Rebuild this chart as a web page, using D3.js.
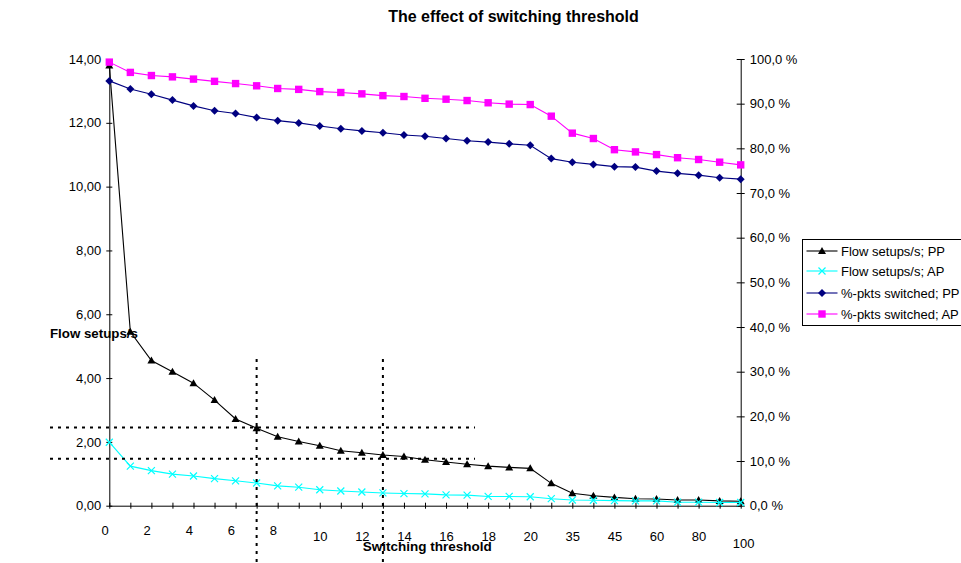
<!DOCTYPE html>
<html>
<head>
<meta charset="utf-8">
<script src="https://cdn.jsdelivr.net/npm/d3@7"></script>
<style>
  html, body { margin: 0; padding: 0; background: #fff; }
  svg { display: block; font-family: "Liberation Sans", Arial, sans-serif; }
</style>
</head>
<body>
<svg id="chart" width="961" height="563"></svg>
<script>
// Switching thresholds (x categories)
const thresholds = ["0","1","2","3","4","5","6","7","8","9","10","11","12","13","14","15","16","17","18","19","20",
                    "30","35","40","45","50","60","70","80","90","100"];
// Flow setups per second (left axis)
const flowPP = [13.8, 5.45, 4.55, 4.2, 3.84, 3.31, 2.72, 2.43, 2.16, 2.01, 1.88, 1.72, 1.66, 1.59, 1.54, 1.44,
                1.37, 1.30, 1.24, 1.20, 1.17, 0.70, 0.39, 0.31, 0.26, 0.22, 0.21, 0.18, 0.18, 0.15, 0.14];
const flowAP = [1.99, 1.24, 1.10, 0.99, 0.93, 0.85, 0.78, 0.71, 0.62, 0.58, 0.50, 0.46, 0.43, 0.40, 0.38, 0.37,
                0.34, 0.33, 0.29, 0.29, 0.28, 0.22, 0.18, 0.17, 0.16, 0.15, 0.15, 0.11, 0.11, 0.10, 0.10];
// Share of packets switched, percent (right axis)
const pktsPP = [95.1, 93.3, 92.1, 90.8, 89.5, 88.4, 87.8, 86.9, 86.2, 85.7, 85.0, 84.4, 83.9, 83.5, 83.0, 82.7,
                82.2, 81.7, 81.4, 81.0, 80.7, 77.7, 76.9, 76.4, 75.9, 75.8, 74.9, 74.4, 74.0, 73.4, 73.1];
const pktsAP = [99.3, 97.0, 96.3, 96.0, 95.5, 95.0, 94.5, 94.0, 93.4, 93.2, 92.7, 92.5, 92.2, 91.8, 91.6, 91.2,
                91.0, 90.7, 90.2, 89.9, 89.8, 87.2, 83.4, 82.2, 79.7, 79.2, 78.6, 77.9, 77.5, 76.9, 76.3];
// Axis ticks
const leftTicks = [0, 2, 4, 6, 8, 10, 12, 14];
const rightTicks = [0, 10, 20, 30, 40, 50, 60, 70, 80, 90, 100];
// Reference guides: thresholds and flow-rate levels marked with dotted lines
const refThresholds = ["7", "13"];
const refFlows = [2.45, 1.47];

const seriesNames = ["Flow setups/s; PP", "Flow setups/s; AP", "%-pkts switched; PP", "%-pkts switched; AP"];

const svg = d3.select("#chart");
const W = 961, H = 563;
const plot = {left: 109.3, right: 740.7, top: 59, bottom: 505.7};

const x = d3.scalePoint().domain(thresholds).range([plot.left, plot.right]);
const yL = d3.scaleLinear().domain([0, 14]).range([plot.bottom, plot.top]);
const yR = d3.scaleLinear().domain([0, 100]).range([plot.bottom, plot.top]);

const loc = d3.formatLocale({decimal: ",", thousands: " ", grouping: [3], currency: ["", ""]});
const fmtL = loc.format(".2f");
const fmt1 = loc.format(".1f");
const FONT = "Liberation Sans, Arial, sans-serif";

// Title
svg.append("text").attr("x", 513.5).attr("y", 21.5).attr("text-anchor", "middle")
  .attr("font-size", 16).attr("font-weight", "bold").text("The effect of switching threshold");

// Left axis
const gL = svg.append("g").attr("transform", `translate(${plot.left},0)`)
  .call(d3.axisLeft(yL).tickValues(leftTicks).tickFormat(fmtL).tickSize(3).tickSizeOuter(0).tickPadding(5));
gL.selectAll(".tick line").attr("x1", -3).attr("x2", 3);
gL.selectAll("text").attr("font-size", 13).attr("font-family", FONT).attr("fill", "#000");

// Right axis
const gR = svg.append("g").attr("transform", `translate(${plot.right},0)`)
  .call(d3.axisRight(yR).tickValues(rightTicks).tickFormat(d => fmt1(d) + " %").tickSize(4).tickSizeOuter(0).tickPadding(5));
gR.selectAll(".tick line").attr("x1", -4).attr("x2", 4);
gR.selectAll("text").attr("font-size", 13).attr("font-family", FONT).attr("fill", "#000");

// Bottom axis: every other category labelled, staggered by label length
const gX = svg.append("g").attr("transform", `translate(0,${plot.bottom})`)
  .call(d3.axisBottom(x).tickSize(3).tickSizeOuter(0).tickFormat((d, i) => i % 2 === 0 ? d : ""));
gX.selectAll(".tick line").attr("y1", -3).attr("y2", 3);
const labelDx = {1: -4.7, 2: 0, 3: 2.5};
const labelY = {1: 29, 2: 35.8, 3: 42.8};
gX.selectAll(".tick text")
  .attr("font-size", 13).attr("font-family", FONT).attr("fill", "#000")
  .attr("dy", null)
  .attr("y", d => labelY[d.length])
  .attr("x", d => labelDx[d.length]);
svg.selectAll(".domain").attr("stroke", "#000");
svg.selectAll(".tick line").attr("stroke", "#000");

// Axis titles
svg.append("text").attr("x", 50).attr("y", 337.5).attr("font-size", 13.3).attr("font-weight", "bold")
  .text("Flow setups/s");
svg.append("text").attr("x", 362.7).attr("y", 550.7).attr("font-size", 13.5).attr("font-weight", "bold")
  .text("Switching threshold");

// Marker shapes
const markers = {
  triangle: "M0,-4L4,3L-4,3Z",
  cross: "M-3.5,-3.5L3.5,3.5M-3.5,3.5L3.5,-3.5",
  diamond: "M0,-4L4,0L0,4L-4,0Z",
  square: "M-3.7,-3.7H3.7V3.7H-3.7Z"
};

const series = [
  {name: seriesNames[0], values: flowPP, y: yL, color: "#000000", marker: "triangle"},
  {name: seriesNames[1], values: flowAP, y: yL, color: "#00FFFF", marker: "cross"},
  {name: seriesNames[2], values: pktsPP, y: yR, color: "#000080", marker: "diamond"},
  {name: seriesNames[3], values: pktsAP, y: yR, color: "#FF00FF", marker: "square"}
];

function drawMarker(g, s) {
  const p = g.append("path").attr("d", markers[s.marker]);
  if (s.marker === "cross") p.attr("fill", "none").attr("stroke", s.color).attr("stroke-width", 1.2);
  else p.attr("fill", s.color).attr("stroke", "none");
  return p;
}

series.forEach(s => {
  const line = d3.line().x((d, i) => x(thresholds[i])).y(d => s.y(d));
  svg.append("path").datum(s.values).attr("d", line)
    .attr("fill", "none").attr("stroke", s.color).attr("stroke-width", 1.1);
  const mg = svg.append("g");
  s.values.forEach((v, i) => {
    const g = mg.append("g").attr("transform", `translate(${x(thresholds[i])},${s.y(v)})`);
    drawMarker(g, s);
  });
});

// Dotted guide lines
const guides = svg.append("g").attr("stroke", "#000").attr("stroke-width", 2).attr("stroke-dasharray", "3,5");
refFlows.forEach(v => {
  guides.append("line").attr("x1", 50).attr("x2", 475).attr("y1", yL(v)).attr("y2", yL(v));
});
refThresholds.forEach(t => {
  guides.append("line").attr("x1", x(t)).attr("x2", x(t)).attr("y1", 359).attr("y2", H);
});

// Legend
const lg = svg.append("g").attr("transform", "translate(802.5,239.5)");
lg.append("rect").attr("width", 160).attr("height", 86).attr("fill", "#fff").attr("stroke", "#000");
const rowY = [11.5, 31.5, 53.5, 74.5];
series.forEach((s, i) => {
  const row = lg.append("g").attr("transform", `translate(0,${rowY[i]})`);
  row.append("line").attr("x1", 4).attr("x2", 35).attr("stroke", s.color).attr("stroke-width", 1.1);
  drawMarker(row.append("g").attr("transform", "translate(19.5,0)"), s);
  row.append("text").attr("x", 38.5).attr("y", 4.6).attr("font-size", 13).text(s.name);
});
</script>
</body>
</html>
